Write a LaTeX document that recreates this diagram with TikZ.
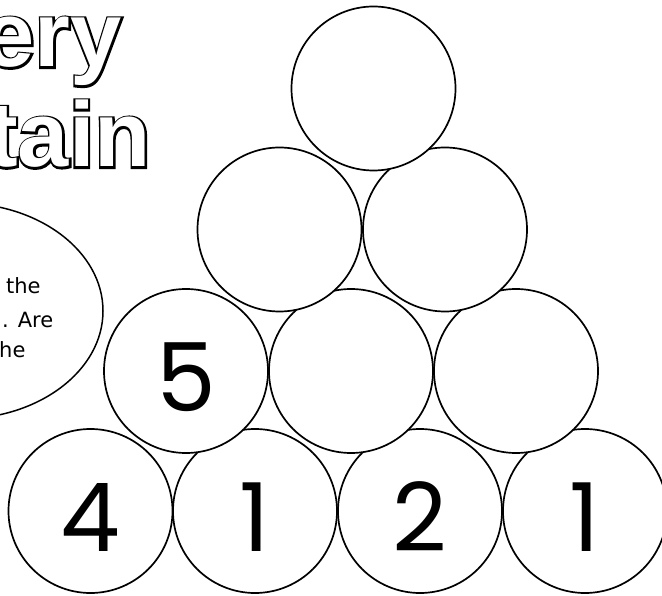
\documentclass[tikz,border=0pt]{standalone}
\usepackage{fontspec}
\usepackage{tikz}
\usetikzlibrary{shapes.geometric}
\newfontfamily\titlefont{Liberation Sans Bold}
\newfontfamily\numfont{Poppins}
\newfontfamily\notefont{DejaVu Sans}
% thick black stroke under, white fill on top: outlined letters
\newcommand\outlined[1]{\rlap{\special{pdf:literal direct 4 w 1 Tr}#1\special{pdf:literal direct 0 Tr}}\textcolor{white}{#1}}

\begin{document}
\begin{tikzpicture}[
  x=1pt, y=-1pt,
  ball/.style={draw, circle, fill=white, line width=1.7pt, inner sep=0pt,
               minimum size=164pt, text height=80pt, text depth=0pt,
               font=\numfont\fontsize{95}{95}\selectfont},
  hint/.style={draw, ellipse, line width=1.5pt, inner sep=0pt},
  note/.style={anchor=base west, inner sep=0pt,
               font=\notefont\fontsize{21}{24}\selectfont},
  title/.style={anchor=base east, inner sep=0pt,
                font=\titlefont\fontsize{92}{92}\selectfont}
]
\useasboundingbox (0,0) rectangle (662,596);
\clip (0,0) rectangle (662,596);

% title
\node[title] (t1) at (122,67)  {\outlined{ery}};
\node[title] (t2) at (151,167) {\outlined{tain}};

% speech bubble
\node[hint, minimum width=286pt, minimum height=216pt] (bubble) at (-40,311) {};
\node[note] (n1) at (6,294)  {the};
\node[note] (n2) at (2,327)  {. Are};
\node[note] (n3) at (-1,358) {he};

% mountain, bottom row first
\node[ball] (b41) at (90.5,511) {4};
\node[ball] (b42) at (255,511)  {1};
\node[ball] (b43) at (420,511)  {2};
\node[ball] (b44) at (585,511)  {1};

\node[ball] (b31) at (186,371) {5};
\node[ball] (b32) at (351,371) {};
\node[ball] (b33) at (516,371) {};

\node[ball] (b21) at (279.5,229.5) {};
\node[ball] (b22) at (445,229.5)   {};

\node[ball] (b11) at (373.5,88.5) {};
\end{tikzpicture}
\end{document}
